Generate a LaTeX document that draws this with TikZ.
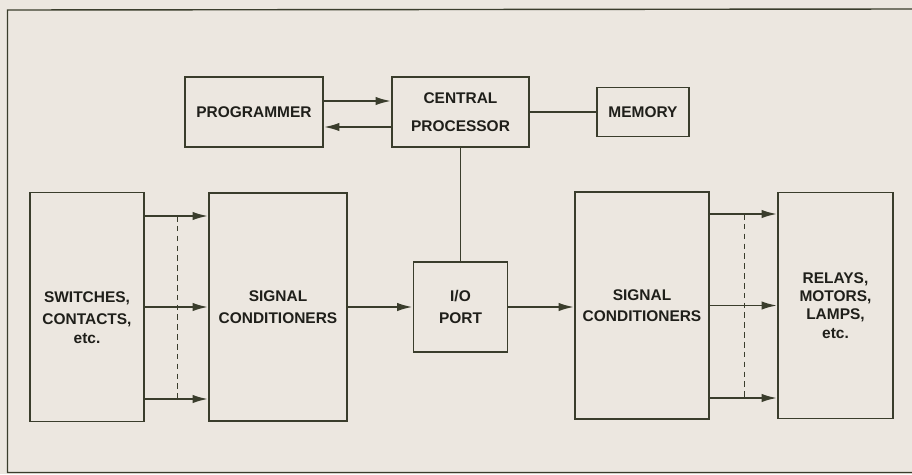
\documentclass[tikz,border=0pt]{standalone}
\usepackage{fontspec}
\setmainfont{Liberation Sans}
\usetikzlibrary{arrows.meta, positioning, calc}
\definecolor{paper}{HTML}{ECE7E0}
\definecolor{ink}{HTML}{3A3D2C}
\definecolor{txt}{HTML}{1F1F1A}

\begin{document}
\begin{tikzpicture}[
  x=0.025cm, y=-0.025cm,
  box/.style={draw=ink, line width=1.35pt, fill=paper, align=center, text=txt,
              inner sep=0pt, font=\bfseries\fontsize{11}{15.4}\selectfont},
  lbl/.style={align=center, text=txt, inner sep=0pt,
              font=\bfseries\fontsize{11}{15.4}\selectfont},
  arr/.style={-{Latex[length=11pt,width=6pt]}, draw=ink, line width=1.35pt},
  wire/.style={draw=ink, line width=1.35pt},
  bus/.style={draw=ink, line width=0.6pt, dash pattern=on 4pt off 3pt}
]
  \fill[paper] (0,0) rectangle (912,474);
  \useasboundingbox (0,0) rectangle (912,474);
  \draw[ink, line width=1pt] (912,9) -- (7.5,10) -- (7.5,472.5) -- (912,472.5);

  % top row
  \node[box, minimum width=3.45cm, minimum height=1.75cm]   (prog)  at (254,112)   {PROGRAMMER};
  \node[box, minimum width=3.425cm, minimum height=1.75cm,
        font=\bfseries\fontsize{11}{20}\selectfont]          (cpu)   at (460.5,112) {CENTRAL\\PROCESSOR};
  \node[box, minimum width=2.3cm, minimum height=1.225cm]   (mem)   at (643,112)   {MEMORY};

  % bottom row
  \node[box, minimum width=2.85cm, minimum height=5.725cm]  (sw)    at (87,307)    {};
  \node[lbl] (swtxt) at ($(sw)+(0,11)$) {SWITCHES,\\CONTACTS,\\[-1.5pt]etc.};
  \node[box, minimum width=3.45cm, minimum height=5.7cm]    (scin)  at (278,307)   {SIGNAL\\CONDITIONERS};
  \node[box, minimum width=2.35cm, minimum height=2.25cm]   (io)    at (460.5,307) {I/O\\PORT};
  \node[box, minimum width=3.35cm, minimum height=5.675cm]  (scout) at (642,305.5) {SIGNAL\\CONDITIONERS};
  \node[box, minimum width=2.875cm, minimum height=5.65cm,
        font=\bfseries\fontsize{11}{13}\selectfont]          (out)   at (835.5,305.5) {RELAYS,\\MOTORS,\\LAMPS,\\etc.};

  % connections
  \draw[arr] ($(prog.east)+(0,-11)$) -- ($(cpu.west)+(0,-11)$);
  \draw[arr] ($(cpu.west)+(0,15)$) -- ($(prog.east)+(0,15)$);
  \draw[wire] (cpu) -- (mem);
  \draw[wire] (cpu) -- (io);

  \foreach \dy in {-91,0,92}
    \draw[arr] ($(sw.east)+(0,\dy)$) -- ($(scin.west)+(0,\dy)$);
  \draw[bus] ($(sw.east)+(32,-91)$) -- ($(sw.east)+(32,92)$);

  \draw[arr] (scin) -- (io);
  \draw[arr] (io.east) -- (io.east -| scout.west);

  \foreach \dy in {-91.5,0,92.5}
    \draw[arr] ($(scout.east)+(0,\dy)$) -- ($(out.west)+(0,\dy)$);
  \draw[bus] ($(scout.east)+(34,-91.5)$) -- ($(scout.east)+(34,92.5)$);
\end{tikzpicture}
\end{document}
